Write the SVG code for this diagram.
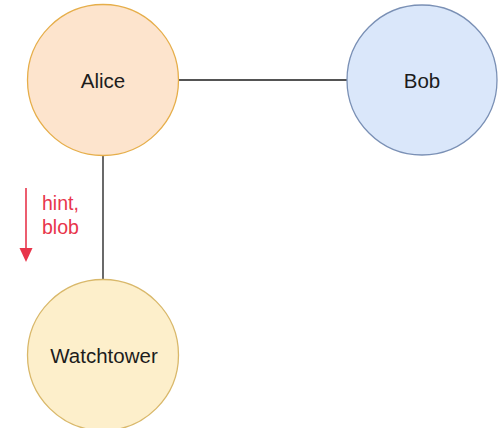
<svg xmlns="http://www.w3.org/2000/svg" width="498" height="428" viewBox="0 0 498 428">
  <style>
    .lbl { font-family: "Liberation Sans", Arial, sans-serif; font-size: 20.5px; fill: #1c1c1c; text-anchor: middle; }
    .edge { stroke: #1a1a1a; stroke-width: 1.3; fill: none; }
    .note { font-family: "Liberation Sans", Arial, sans-serif; font-size: 19.5px; fill: #e8354b; }
  </style>
  <rect width="498" height="428" fill="#ffffff"/>
  <g id="connectors">
    <line class="edge" x1="179" y1="80" x2="347" y2="80"/>
    <line class="edge" x1="103" y1="155" x2="103" y2="280"/>
  </g>
  <g id="alice">
    <circle cx="103" cy="80" r="75.5" fill="#fde4cd" stroke="#e6ae4a" stroke-width="1.3"/>
    <text class="lbl" x="103" y="88">Alice</text>
  </g>
  <g id="bob">
    <circle cx="422" cy="80" r="75" fill="#dae7fa" stroke="#7a90b5" stroke-width="1.3"/>
    <text class="lbl" x="422" y="88">Bob</text>
  </g>
  <g id="watchtower">
    <circle cx="103" cy="355" r="75.5" fill="#fdefcb" stroke="#d9b86a" stroke-width="1.3"/>
    <text class="lbl" x="104" y="363">Watchtower</text>
  </g>
  <g id="hint-note">
    <line x1="26" y1="188" x2="26" y2="252" stroke="#e8354b" stroke-width="1.6"/>
    <path d="M19.5,248 L32.5,248 L26,262 Z" fill="#e8354b"/>
    <text class="note" x="42" y="210">hint,</text>
    <text class="note" x="42" y="234">blob</text>
  </g>
</svg>
